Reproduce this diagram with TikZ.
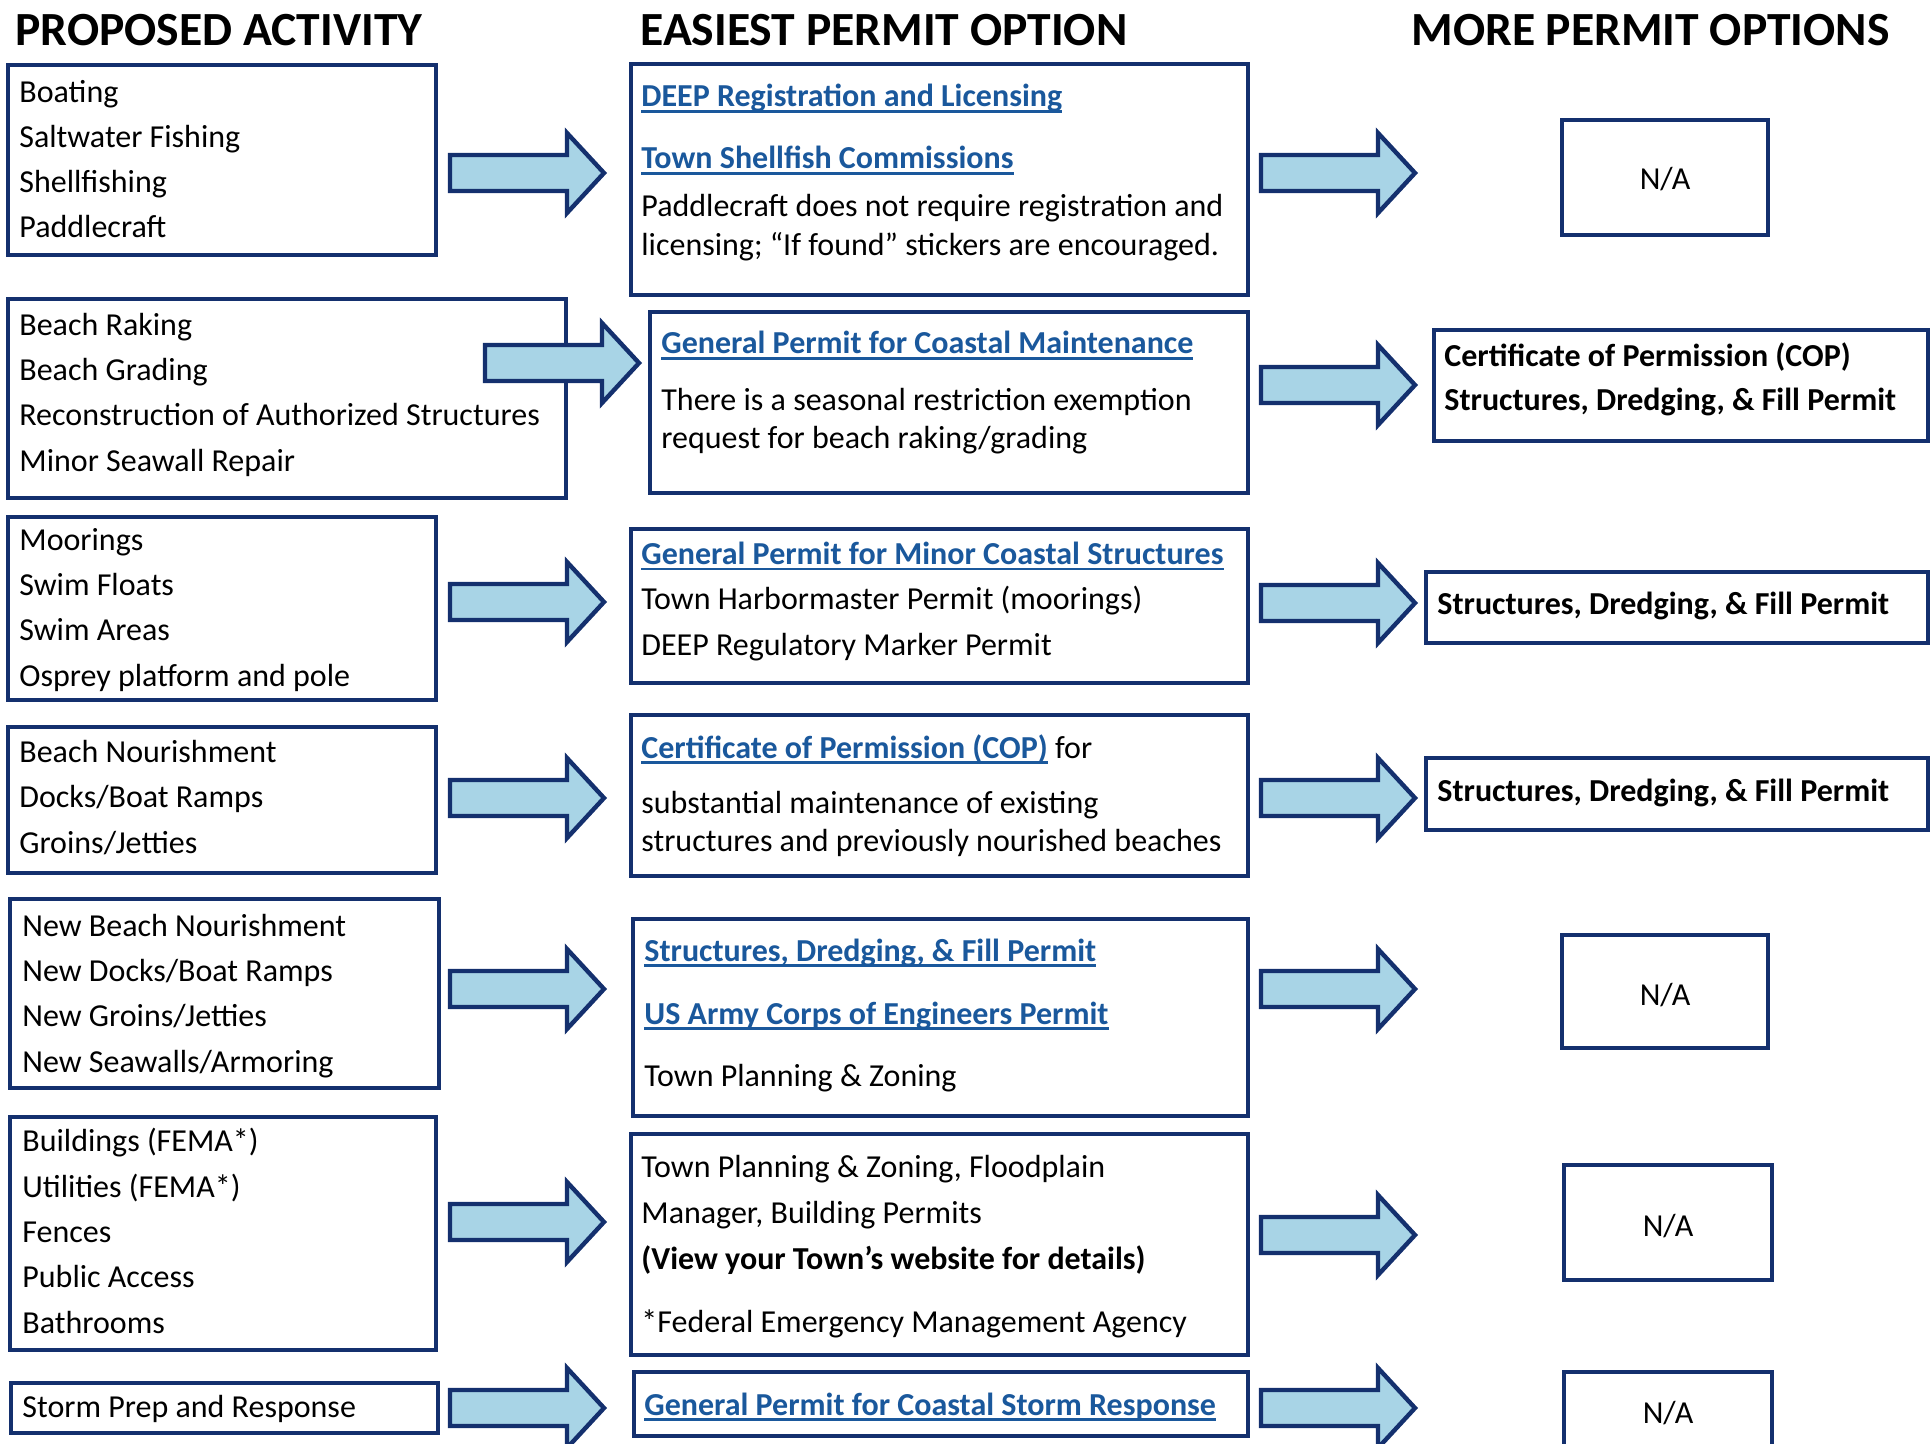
\documentclass[tikz,border=0pt]{standalone}
\usepackage{fontspec}
\setmainfont{Carlito}
\definecolor{navy}{RGB}{20,48,110}
\definecolor{arrowblue}{RGB}{168,212,230}
\definecolor{linkblue}{RGB}{26,88,156}
\newcommand{\ulink}[1]{{\color{linkblue}\bfseries\setbox0\hbox{#1}\rlap{\rule[-2.8pt]{\wd0}{1.25pt}}\box0}}
\tikzset{
  box/.style={draw=navy, line width=2.2pt, fill=white},
  item/.style={anchor=base west, inner sep=0pt, yshift=-1pt, align=left, font=\fontsize{16}{22.65}\selectfont},
  head/.style={anchor=base west, inner sep=0pt, yshift=-0.6pt, font=\fontsize{23.8}{28}\selectfont\bfseries},
  pics/blockarrow/.style={code={
    \draw[draw=navy, fill=arrowblue, line width=2.2pt, line join=miter]
      (0,-18) -- (117,-18) -- (117,-40) -- (154,0) -- (117,40) -- (117,18) -- (0,18) -- cycle;}}
}
\begin{document}
\begin{tikzpicture}[x=0.5pt,y=-0.5pt]
\useasboundingbox (0,0) rectangle (1931,1444);
% headings
\node[head] (hdact) at (15,44) {PROPOSED ACTIVITY};
\node[head] (hdeasy) at (640,44) {EASIEST PERMIT OPTION};
\node[head] (hdmore) at (1411,44) {MORE PERMIT OPTIONS};

% proposed activity (multi-line nodes sit on their last line)
\draw[box] (8,65) rectangle (436,255);
\draw[box] (8,299) rectangle (566,498);
\draw[box] (8,517) rectangle (436,700);
\draw[box] (8,727) rectangle (436,873);
\draw[box] (10,899) rectangle (439,1088);
\draw[box] (10,1117) rectangle (436,1350);
\draw[box] (11,1383) rectangle (438,1433);
\node[item] (act1) at (19,236) {Boating\\Saltwater Fishing\\Shellfishing\\Paddlecraft};
\node[item] (act2) at (19,469) {Beach Raking\\Beach Grading\\Reconstruction of Authorized Structures\\Minor Seawall Repair};
\node[item] (act3) at (19,684) {Moorings\\Swim Floats\\Swim Areas\\Osprey platform and pole};
\node[item] (act4) at (19,851) {Beach Nourishment\\Docks/Boat Ramps\\Groins/Jetties};
\node[item] (act5) at (22,1070) {New Beach Nourishment\\New Docks/Boat Ramps\\New Groins/Jetties\\New Seawalls/Armoring};
\node[item] (act6) at (22,1331) {Buildings (FEMA*)\\Utilities (FEMA*)\\Fences\\Public Access\\Bathrooms};
\node[item] (act7) at (22,1415) {Storm Prep and Response};

% easiest permit option
\draw[box] (631,64) rectangle (1248,295);
\draw[box] (650,312) rectangle (1248,493);
\draw[box] (631,529) rectangle (1248,683);
\draw[box] (631,715) rectangle (1248,876);
\draw[box] (633,919) rectangle (1248,1116);
\draw[box] (631,1134) rectangle (1248,1355);
\draw[box] (634,1372) rectangle (1248,1436);
\node[item] (easy1a) at (641,105) {\ulink{DEEP Registration and Licensing}};
\node[item] (easy1b) at (641,167) {\ulink{Town Shellfish Commissions}};
\node[item, font=\fontsize{16}{19.5}\selectfont] (easy1c) at (641,254) {Paddlecraft does not require registration and\\licensing; “If found” stickers are encouraged.};
\node[item] (easy2a) at (661,352) {\ulink{General Permit for Coastal Maintenance}};
\node[item, font=\fontsize{16}{18.8}\selectfont] (easy2b) at (661,446) {There is a seasonal restriction exemption\\request for beach raking/grading};
\node[item] (easy3) at (641,653) {\ulink{General Permit for Minor Coastal Structures}\\Town Harbormaster Permit (moorings)\\DEEP Regulatory Marker Permit};
\node[item] (easy4a) at (641,756) {\ulink{Certificate of Permission (COP)} for};
\node[item, font=\fontsize{16}{19}\selectfont] (easy4b) at (641,849) {substantial maintenance of existing\\structures and previously nourished beaches};
\node[item] (easy5a) at (644,959) {\ulink{Structures, Dredging, \& Fill Permit}};
\node[item] (easy5b) at (644,1022) {\ulink{US Army Corps of Engineers Permit}};
\node[item] (easy5c) at (644,1084) {Town Planning \& Zoning};
\node[item, font=\fontsize{16}{23}\selectfont] (easy6a) at (641,1267) {Town Planning \& Zoning, Floodplain\\Manager, Building Permits\\\textbf{(View your Town’s website for details)}};
\node[item] (easy6b) at (641,1330) {*Federal Emergency Management Agency};
\node[item] (easy7) at (644,1413) {\ulink{General Permit for Coastal Storm Response}};

% more permit options
\draw[box] (1562,120) rectangle (1768,235);
\draw[box] (1434,330) rectangle (1928,441);
\draw[box] (1426,572) rectangle (1928,643);
\draw[box] (1426,758) rectangle (1928,830);
\draw[box] (1562,935) rectangle (1768,1048);
\draw[box] (1564,1165) rectangle (1772,1280);
\draw[box] (1564,1372) rectangle (1772,1490);
\node[item, anchor=base] (more1) at (1665,188) {N/A};
\node[item, font=\fontsize{16}{22}\selectfont\bfseries] (more2) at (1444,408) {Certificate of Permission (COP)\\Structures, Dredging, \& Fill Permit};
\node[item, font=\fontsize{16}{22}\selectfont\bfseries] (more3) at (1437,612) {Structures, Dredging, \& Fill Permit};
\node[item, font=\fontsize{16}{22}\selectfont\bfseries] (more4) at (1437,799) {Structures, Dredging, \& Fill Permit};
\node[item, anchor=base] (more5) at (1665,1003) {N/A};
\node[item, anchor=base] (more6) at (1668,1234) {N/A};
\node[item, anchor=base] (more7) at (1668,1421) {N/A};

% arrows
\pic at (450,173) {blockarrow};
\pic at (485,363) {blockarrow};
\pic at (450,602) {blockarrow};
\pic at (450,798) {blockarrow};
\pic at (450,989) {blockarrow};
\pic at (450,1222) {blockarrow};
\pic at (450,1408) {blockarrow};
\pic at (1261,173) {blockarrow};
\pic at (1261,385) {blockarrow};
\pic at (1261,603) {blockarrow};
\pic at (1261,798) {blockarrow};
\pic at (1261,989) {blockarrow};
\pic at (1261,1235) {blockarrow};
\pic at (1261,1408) {blockarrow};
\end{tikzpicture}
\end{document}
